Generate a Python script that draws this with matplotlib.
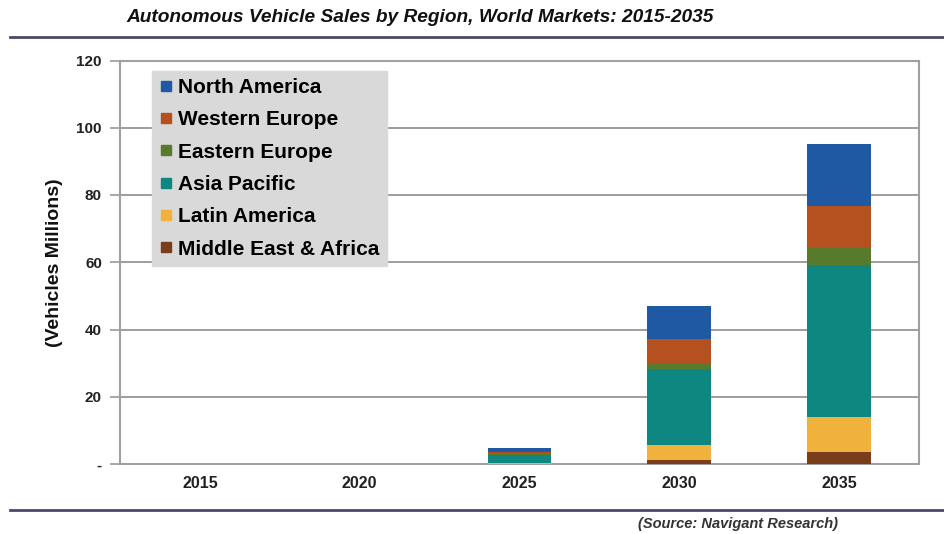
import matplotlib
matplotlib.use("Agg")
import matplotlib.pyplot as plt
from matplotlib.lines import Line2D
import numpy as np

years = ["2015", "2020", "2025", "2030", "2035"]
regions = ["North America", "Western Europe", "Eastern Europe", "Asia Pacific",
           "Latin America", "Middle East & Africa"]
# stacked bottom to top: MEA, LA, AP, EE, WE, NA
mea = [0, 0, 0.05, 1.2, 3.7]
latam = [0, 0, 0.15, 4.4, 10.2]
apac = [0, 0, 2.4, 22.8, 45.2]
eeur = [0, 0, 0.3, 1.3, 5.0]
weur = [0, 0, 0.8, 7.4, 12.5]
namer = [0, 0, 1.0, 9.9, 18.6]
colors = {"North America": "#1f58a3", "Western Europe": "#b5501f",
          "Eastern Europe": "#587a2c", "Asia Pacific": "#0d877f",
          "Latin America": "#f0b23c", "Middle East & Africa": "#7a3d1c"}
yticks = [0, 20, 40, 60, 80, 100, 120]
yticklabels = ["-", "20", "40", "60", "80", "100", "120"]

plt.rcParams['font.family'] = ['Liberation Sans', 'DejaVu Sans']
fig = plt.figure(figsize=(9.45, 5.34), dpi=100)
ax = fig.add_axes([120/945, 1-464/534, (919-120)/945, (464-60.5)/534])

x = np.arange(len(years))
stack = [("Middle East & Africa", mea), ("Latin America", latam), ("Asia Pacific", apac),
         ("Eastern Europe", eeur), ("Western Europe", weur), ("North America", namer)]
bottom = np.zeros(len(years))
for name, vals in stack:
    v = np.array(vals, dtype=float)
    ax.bar(x, v, 0.4, bottom=bottom, color=colors[name], zorder=3)
    bottom += v

ax.set_xlim(-0.5, 4.5)
ax.set_ylim(0, 120)
ax.set_yticks(yticks)
ax.set_yticklabels(yticklabels, fontsize=11, fontweight='bold', color='#222222')
ax.set_xticks(x)
ax.set_xticklabels(years, fontsize=11.5, fontweight='bold', color='#222222')
ax.tick_params(axis='x', length=0, pad=9)
ax.tick_params(axis='y', length=7, color='#999999', width=1.2, pad=6)
ax.grid(axis='y', color='#8c8c8c', linewidth=1.2, zorder=0)
for s in ax.spines.values():
    s.set_color('#a0a0a0')
    s.set_linewidth(1.5)
ax.set_ylabel("(Vehicles Millions)", fontsize=14, fontweight='bold', labelpad=10, color='#111111')

handles = [Line2D([], [], marker='s', linestyle='none', markersize=7,
                  color=colors[r]) for r in regions]
leg = ax.legend(handles, regions, loc='upper left', bbox_to_anchor=(0.04, 0.975),
                frameon=True, fancybox=False, prop={'size': 15, 'weight': 'bold'},
                handlelength=0.6, handletextpad=0.3, labelspacing=0.64,
                borderpad=0.35, borderaxespad=0)
leg.get_frame().set_facecolor('#d9d9d9')
leg.get_frame().set_edgecolor('#d9d9d9')
leg.get_frame().set_alpha(1)
leg.set_zorder(5)

fig.text(0.445, 1-17/534, "Autonomous Vehicle Sales by Region, World Markets: 2015-2035",
         ha='center', va='center', fontsize=13.8, fontweight='bold', style='italic', color='#111111')
fig.add_artist(Line2D([10/945, 1.0], [1-37/534, 1-37/534], color='#4a4a68', linewidth=2))
fig.add_artist(Line2D([10/945, 1.0], [1-510/534, 1-510/534], color='#4a4a68', linewidth=2))
fig.text(838/945, 1-524/534, "(Source: Navigant Research)", ha='right', va='center',
         fontsize=10.5, fontweight='bold', style='italic', color='#333333')

fig.savefig("out.png", dpi=100)
